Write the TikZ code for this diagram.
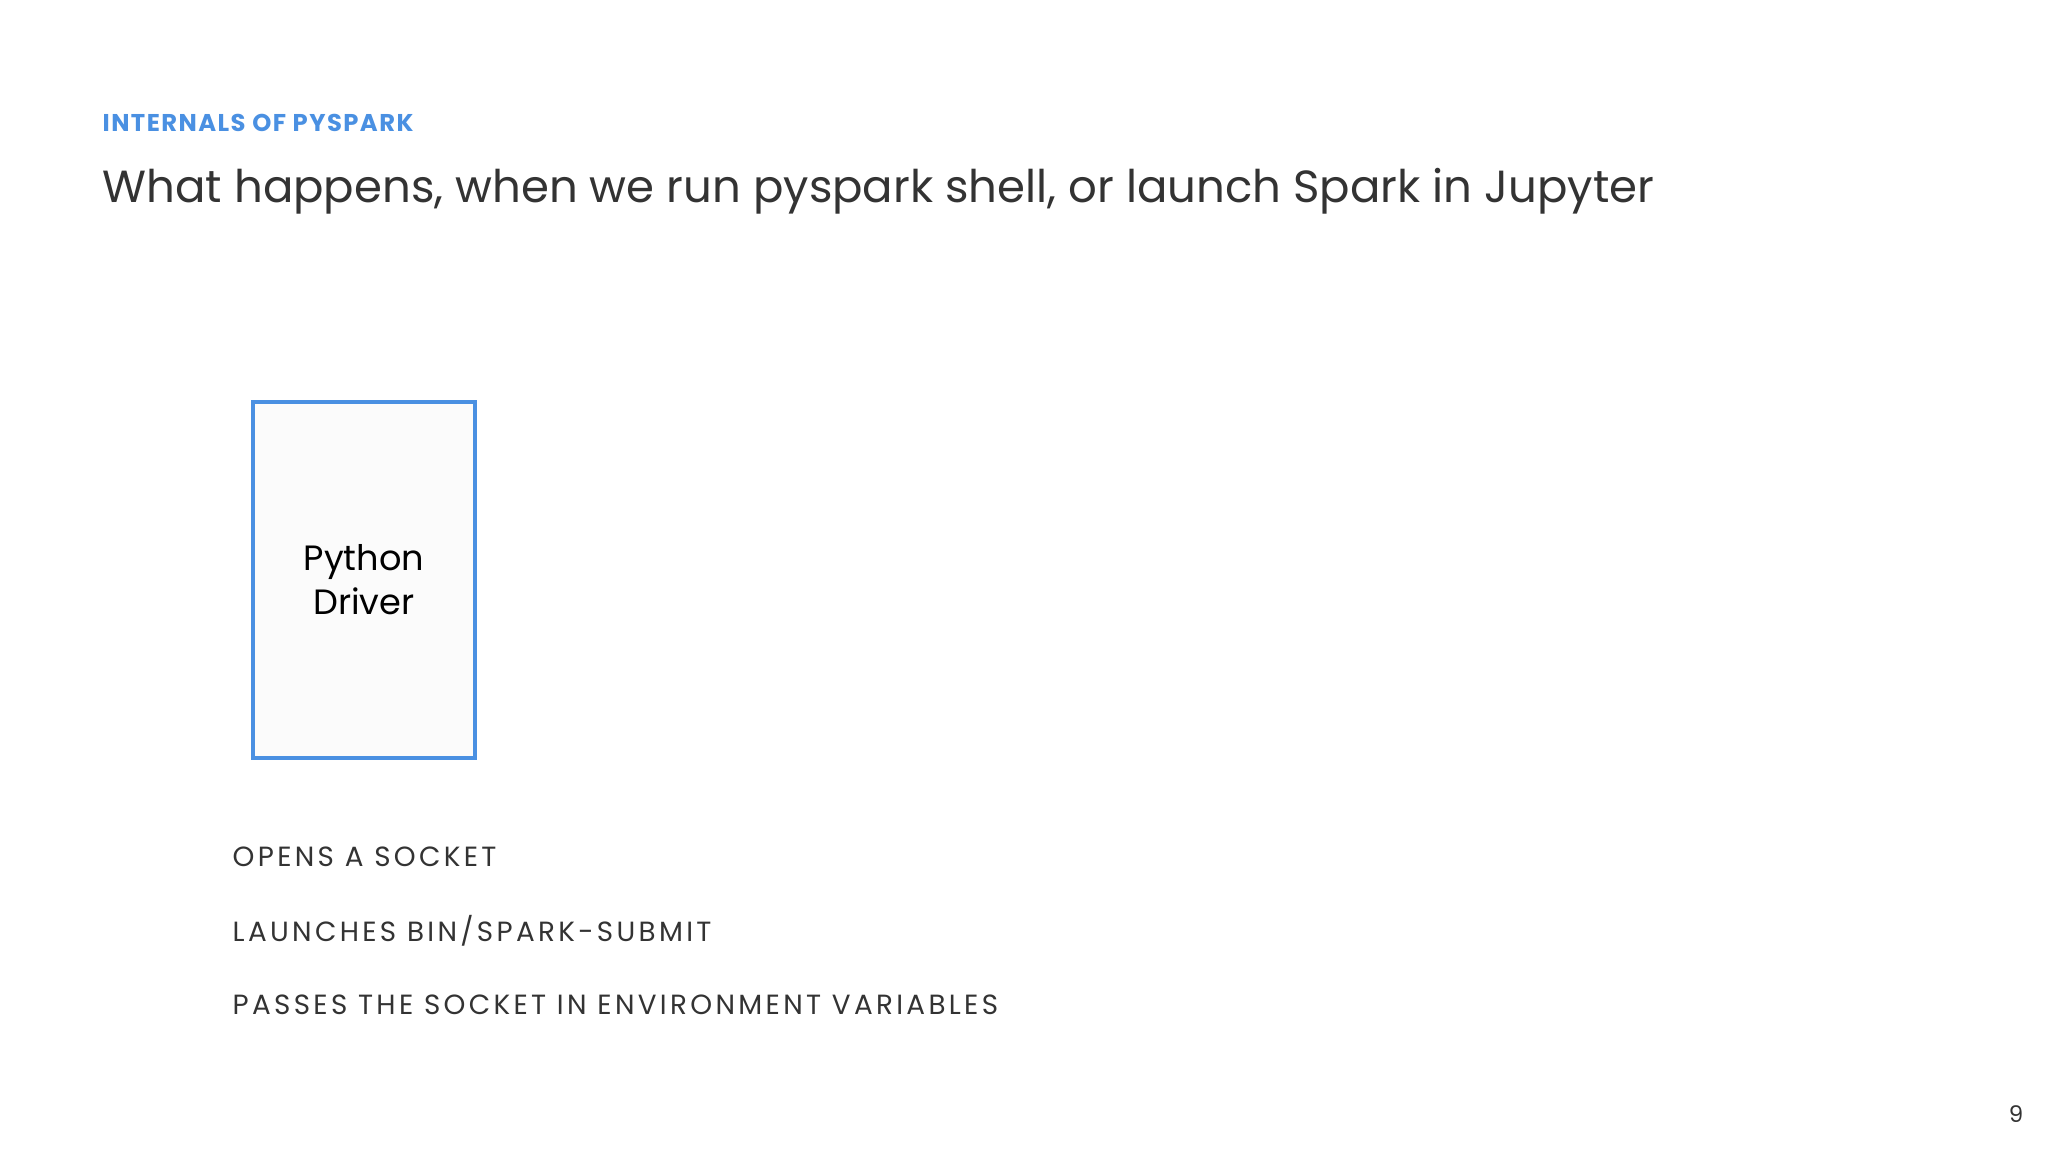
\documentclass[tikz,border=0pt]{standalone}
\usepackage{fontspec}
\setmainfont{Poppins}
\definecolor{accent}{HTML}{4A90E2}
\definecolor{ink}{HTML}{333333}
\begin{document}
\begin{tikzpicture}[x=0.01cm,y=-0.01cm,
  item/.style={anchor=west,inner sep=0pt,font=\fontsize{7.9}{10}\selectfont\addfontfeature{LetterSpace=12},text=ink}]
\useasboundingbox[fill=white] (0,0) rectangle (2048,1152);
\node[anchor=west,inner sep=0pt,text=accent,font=\fontsize{6.9}{8}\bfseries\selectfont\addfontfeature{LetterSpace=6}] (kicker) at (102,123) {INTERNALS OF PYSPARK};
\node[anchor=west,inner sep=0pt,text=ink,font=\fontsize{12.8}{15}\selectfont] (title) at (102,191) {What happens, when we run pyspark shell, or launch Spark in Jupyter};
\node[draw=accent,line width=1.2pt,fill={rgb,255:red,251;green,251;blue,251},minimum width=2.22cm,minimum height=3.56cm,align=center,font=\fontsize{10}{12.5}\selectfont,text=black] (drv) at (364,580) {Python\\Driver};
\node[item] (a) at (232,857) {OPENS A SOCKET};
\node[item] (b) at (232,931) {LAUNCHES BIN/SPARK-SUBMIT};
\node[item] (c) at (232,1005) {PASSES THE SOCKET IN ENVIRONMENT VARIABLES};
\node[inner sep=0pt,text=ink,font=\fontsize{6.5}{8}\selectfont] (pg) at (2016,1114) {9};
\end{tikzpicture}
\end{document}
